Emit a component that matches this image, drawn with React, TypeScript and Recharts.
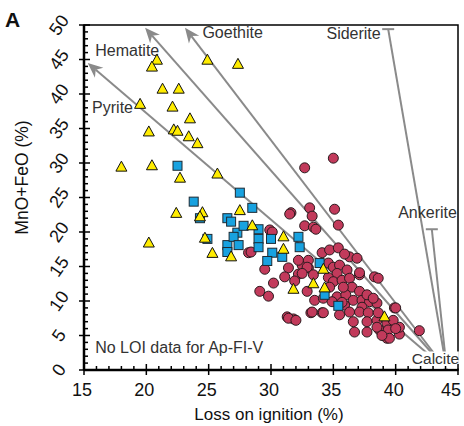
import {
  ReferenceArea,
  ReferenceDot,
  ReferenceLine,
  Scatter,
  ScatterChart,
  XAxis,
  YAxis,
} from "recharts";

const FONT = "'Liberation Sans', Arial, sans-serif";
const LINE = "#8a8a8a";
const TEXT = "#333";

// axis ticks, one per unit; only multiples of 5 get a label
const xTicks = Array.from({ length: 31 }, (_, i) => 15 + i);
const yTicks = Array.from({ length: 51 }, (_, i) => i);

// yellow triangles (LOI %, MnO+FeO %)
const triPoints: [number, number][] = [
  [20.85, 44.9], [20.45, 43.9], [24.9, 44.9], [27.35, 44.3], [21.3, 40.7],
  [22.6, 40.7], [19.5, 38.5], [22.1, 38.1], [23.5, 36.4], [20.2, 34.5],
  [22.2, 34.8], [22.5, 34.6], [23.4, 33.8], [24.1, 32.8], [18.0, 29.4],
  [20.45, 29.6], [22.7, 27.8], [25.7, 28.4], [22.4, 22.7], [24.5, 22.8],
  [24.3, 22.2], [27.5, 23.1], [20.2, 18.4], [24.7, 19.1], [25.3, 16.9],
  [26.8, 16.4], [28.5, 20.9], [31.0, 19.3], [31.0, 17.5], [31.8, 11.7],
  [33.4, 12.5], [34.3, 11.9], [34.2, 14.6], [39.1, 7.7],
];

// blue squares
const sqPoints: [number, number][] = [
  [22.5, 29.6], [23.8, 24.4], [24.3, 22.0], [26.5, 22.0], [26.8, 21.5],
  [24.9, 19.0], [26.5, 18.1], [26.5, 17.1], [27.5, 25.7], [28.5, 23.5],
  [27.3, 19.9], [27.0, 19.3], [27.4, 18.1], [27.8, 20.9], [29.0, 20.4],
  [29.0, 19.0], [30.0, 19.0], [32.2, 19.3], [32.3, 17.8], [29.0, 17.8],
  [30.1, 17.0], [30.9, 16.4], [29.7, 15.8], [33.9, 15.5], [34.3, 10.9],
  [35.4, 9.3],
];

// red circles
const circPoints: [number, number][] = [
  [35.0, 30.7], [32.7, 29.3], [31.6, 22.8], [31.5, 22.6], [33.1, 23.5],
  [33.3, 22.3], [35.1, 23.3], [35.4, 21.0], [32.7, 20.9], [33.4, 20.7],
  [33.6, 20.4], [29.9, 20.3], [30.1, 20.0], [28.2, 17.0], [28.4, 17.1],
  [29.5, 14.6], [30.2, 12.6], [29.1, 11.4], [29.8, 10.7], [31.3, 7.7],
  [31.8, 7.4], [33.2, 8.3], [34.1, 8.3], [31.4, 14.8], [31.1, 13.5],
  [32.2, 13.9], [32.5, 15.2], [33.0, 14.8], [34.1, 17.0], [34.7, 17.4],
  [35.4, 17.7], [36.3, 16.4], [36.9, 16.2], [37.1, 13.8], [38.3, 13.5],
  [38.6, 13.3], [39.9, 9.0], [41.9, 5.7], [36.7, 5.5], [37.7, 5.5],
  [39.3, 4.6], [40.3, 5.2], [40.3, 6.2], [38.7, 5.8], [32.2, 15.9],
  [33.0, 15.9], [32.9, 14.9], [32.5, 14.0], [31.9, 12.9], [34.6, 15.5],
  [35.0, 14.9], [35.5, 15.2], [36.1, 14.5], [35.3, 14.0], [34.6, 13.4],
  [35.0, 12.8], [35.7, 13.0], [36.3, 13.3], [37.1, 14.1], [36.5, 12.0],
  [37.1, 11.4], [33.4, 13.8], [34.7, 12.0], [32.9, 11.4], [33.5, 10.1],
  [34.2, 10.4], [35.3, 10.6], [36.0, 10.9], [36.6, 10.1], [37.3, 10.1],
  [37.9, 9.9], [38.5, 9.7], [37.3, 9.1], [35.9, 9.4], [36.3, 8.4],
  [37.1, 8.4], [37.8, 8.3], [36.6, 7.0], [37.7, 7.0], [38.5, 7.2],
  [39.3, 6.8], [39.8, 7.2], [39.4, 5.8], [38.5, 6.2], [40.0, 6.0],
  [39.5, 4.6], [38.9, 5.0], [40.0, 9.0], [38.6, 8.3], [35.5, 8.0],
  [34.2, 8.3], [33.3, 8.4], [31.4, 7.5], [32.0, 7.2], [35.7, 9.8],
  [34.9, 9.9], [35.8, 12.0], [37.7, 10.9], [38.2, 10.4], [35.9, 16.8],
];

// mixing lines from calcite to end members
const calcite = { x: 44.1, y: 0 };
const arrowEnds = [
  { x: 15.3, y: 44.5 }, // pyrite
  { x: 19.9, y: 49.6 }, // hematite
  { x: 23.1, y: 49.6 }, // goethite
];
const barEnds = [
  { x: 39.4, y: 49.4 }, // siderite
  { x: 42.9, y: 20.4 }, // ankerite
];

const labels = [
  { text: "Hematite", x: 15.9, y: 45.5, anchor: "start" },
  { text: "Pyrite", x: 15.65, y: 37.2, anchor: "start" },
  { text: "Goethite", x: 24.5, y: 48.1, anchor: "start" },
  { text: "Siderite", x: 38.8, y: 48.0, anchor: "end" },
  { text: "Ankerite", x: 40.2, y: 22.0, anchor: "start" },
  { text: "No LOI data for Ap-FI-V", x: 15.9, y: 2.5, anchor: "start" },
];

const toXY = (pts: [number, number][]) => pts.map(([x, y]) => ({ x, y }));

const Circ = ({ cx, cy }: any) => (
  <circle cx={cx} cy={cy} r={5} fill="#c23a5b" stroke="#2a1a1e" strokeWidth={1} />
);
const Sq = ({ cx, cy }: any) => (
  <rect x={cx - 4.5} y={cy - 4.5} width={9} height={9} fill="#18a2e0" stroke="#1d2a33" strokeWidth={1} />
);
const Tri = ({ cx, cy }: any) => (
  <polygon
    points={`${cx},${cy - 6} ${cx + 5.5},${cy + 4} ${cx - 5.5},${cy + 4}`}
    fill="#ffec00"
    stroke="#111"
    strokeWidth={1}
    strokeLinejoin="round"
  />
);

const ArrowLine = ({ x1, y1, x2, y2 }: any) => {
  const a = Math.atan2(y2 - y1, x2 - x1);
  const c = Math.cos(a);
  const s = Math.sin(a);
  const L = 15;
  const W = 6.5;
  const bx = x2 - L * c;
  const by = y2 - L * s;
  const nx = x2 - L * 0.7 * c;
  const ny = y2 - L * 0.7 * s;
  return (
    <g>
      <line x1={x1} y1={y1} x2={nx} y2={ny} stroke={LINE} strokeWidth={2} />
      <polygon
        points={`${x2},${y2} ${bx - W * s},${by + W * c} ${nx},${ny} ${bx + W * s},${by - W * c}`}
        fill={LINE}
      />
    </g>
  );
};

const BarLine = ({ x1, y1, x2, y2 }: any) => (
  <g>
    <line x1={x1} y1={y1} x2={x2} y2={y2} stroke={LINE} strokeWidth={2} />
    <line x1={x2 - 6} y1={y2} x2={x2 + 6} y2={y2} stroke={LINE} strokeWidth={2} />
  </g>
);

const XTick = ({ x, y, payload }: any) => {
  const major = payload.value % 5 === 0;
  const lx = payload.value === 45 ? x - 7 : x - 2;
  return (
    <g>
      <line x1={x} x2={x} y1={major ? y + 5 : y} y2={y - (major ? 6 : 4)} stroke="#000" strokeWidth={1.5} />
      {major && (
        <text x={lx} y={y + 26} textAnchor="middle" fontSize={18} fontFamily={FONT} fill="#111">
          {payload.value}
        </text>
      )}
    </g>
  );
};

const YTick = ({ x, y, payload }: any) => {
  const major = payload.value % 5 === 0;
  const lx = x - 25;
  return (
    <g>
      <line x1={major ? x - 5 : x} x2={x + (major ? 6 : 4)} y1={y} y2={y} stroke="#000" strokeWidth={1.5} />
      {major && (
        <text
          x={lx}
          y={y}
          transform={`rotate(-55 ${lx} ${y})`}
          textAnchor="middle"
          dominantBaseline="central"
          fontSize={18}
          fontFamily={FONT}
          fill="#111"
        >
          {payload.value}
        </text>
      )}
    </g>
  );
};

export default function App() {
  return (
    <div style={{ position: "absolute", left: 0, top: 0, width: 464, height: 426, background: "#fff" }}>
      <div
        style={{
          position: "absolute",
          left: 5,
          top: 9,
          fontFamily: FONT,
          fontWeight: "bold",
          fontSize: 21,
          lineHeight: "21px",
          color: "#111",
        }}
      >
        A
      </div>
      <ScatterChart width={464} height={426} margin={{ top: 25, right: 6, bottom: 0, left: 0 }}>
        <XAxis
          type="number"
          dataKey="x"
          domain={[15, 45]}
          ticks={xTicks}
          interval={0}
          tick={<XTick />}
          tickSize={0}
          tickMargin={0}
          tickLine={false}
          height={56}
          axisLine={{ stroke: "#000", strokeWidth: 2.5 }}
          allowDataOverflow
          label={{
            content: ({ viewBox }: any) => (
              <text
                x={viewBox.x + viewBox.width / 2 - 2}
                y={viewBox.y + 50}
                textAnchor="middle"
                fontSize={17}
                fontFamily={FONT}
                fill="#111"
              >
                Loss on ignition (%)
              </text>
            ),
          }}
        />
        <YAxis
          type="number"
          dataKey="y"
          domain={[0, 50]}
          ticks={yTicks}
          interval={0}
          tick={<YTick />}
          tickSize={0}
          tickMargin={0}
          tickLine={false}
          width={84}
          axisLine={{ stroke: "#000", strokeWidth: 2.5 }}
          allowDataOverflow
          label={{
            content: ({ viewBox }: any) => {
              const cx = 22;
              const cy = viewBox.y + viewBox.height / 2 - 20;
              return (
                <text
                  x={cx}
                  y={cy}
                  transform={`rotate(-90 ${cx} ${cy})`}
                  textAnchor="middle"
                  dominantBaseline="central"
                  fontSize={17.5}
                  fontFamily={FONT}
                  fill="#111"
                >
                  MnO+FeO (%)
                </text>
              );
            },
          }}
        />
        <ReferenceArea x1={15} x2={45} y1={0} y2={50} fill="none" stroke="#000" strokeWidth={1.5} />
        {arrowEnds.map((p, i) => (
          <ReferenceLine key={`a${i}`} segment={[calcite, p]} shape={<ArrowLine />} />
        ))}
        {barEnds.map((p, i) => (
          <ReferenceLine key={`b${i}`} segment={[calcite, p]} shape={<BarLine />} />
        ))}
        {labels.map((l) => (
          <ReferenceDot
            key={l.text}
            x={l.x}
            y={l.y}
            r={0}
            shape={(p: any) => (
              <text x={p.cx} y={p.cy} textAnchor={l.anchor} fontSize={16} fontFamily={FONT} fill={TEXT}>
                {l.text}
              </text>
            )}
          />
        ))}
        <Scatter data={toXY(circPoints)} shape={<Circ />} isAnimationActive={false} />
        <Scatter data={toXY(sqPoints)} shape={<Sq />} isAnimationActive={false} />
        <Scatter data={toXY(triPoints)} shape={<Tri />} isAnimationActive={false} />
        <ReferenceDot
          x={41.3}
          y={0.8}
          r={0}
          shape={(p: any) => (
            <g>
              <rect x={p.cx - 1} y={p.cy - 13} width={48} height={17} fill="#fff" />
              <text x={p.cx} y={p.cy} fontSize={15.5} fontFamily={FONT} fill={TEXT}>
                Calcite
              </text>
            </g>
          )}
        />
      </ScatterChart>
    </div>
  );
}
